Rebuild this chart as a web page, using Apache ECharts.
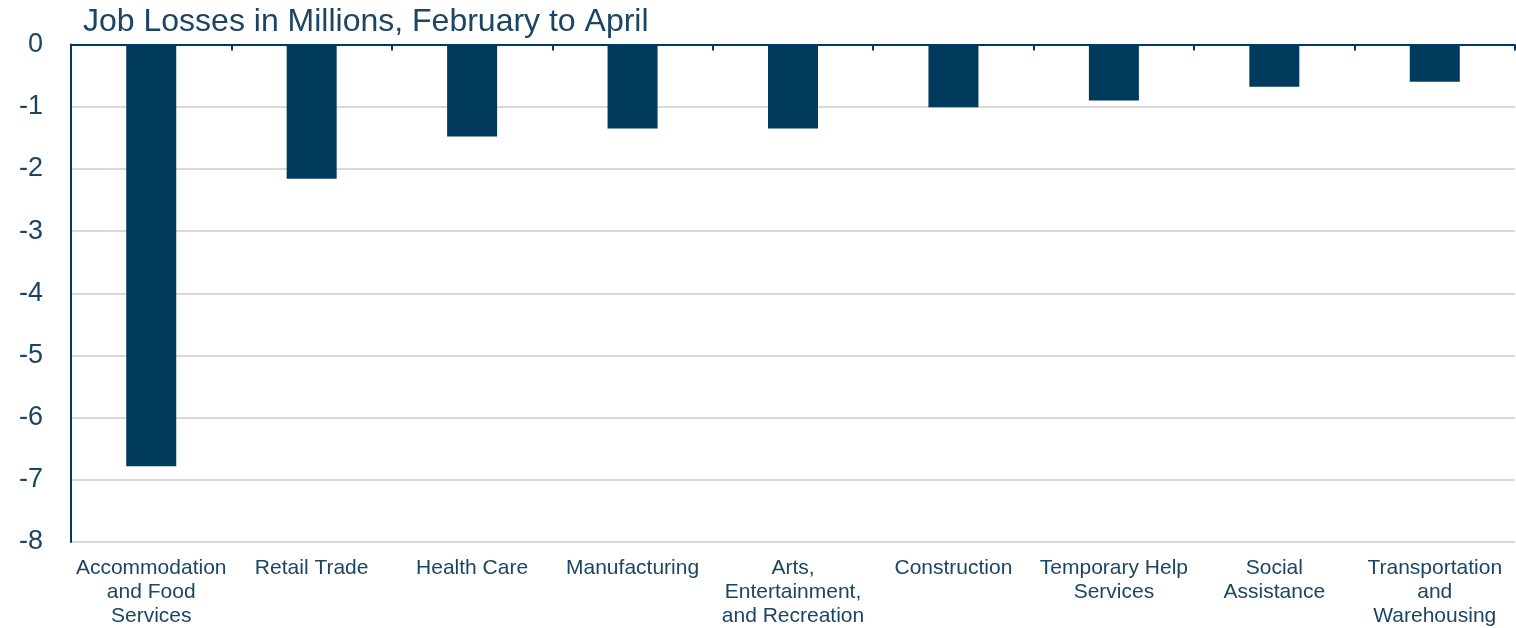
<!DOCTYPE html>
<html>
<head>
<meta charset="utf-8">
<script src="https://cdn.jsdelivr.net/npm/echarts@6/dist/echarts.min.js"></script>
<style>
html,body{margin:0;padding:0;background:#fff;}
#chart{width:1516px;height:628px;}
</style>
</head>
<body>
<div id="chart"></div>
<script>
const titleText = "Job Losses in Millions, February to April";
const categories = [
  "Accommodation\nand Food\nServices",
  "Retail Trade",
  "Health Care",
  "Manufacturing",
  "Arts,\nEntertainment,\nand Recreation",
  "Construction",
  "Temporary Help\nServices",
  "Social\nAssistance",
  "Transportation\nand\nWarehousing"
];
const jobLosses = [-6.78, -2.16, -1.48, -1.35, -1.35, -1.01, -0.90, -0.68, -0.60];
const yMin = -8, yMax = 0, yStep = 1;

const navy = '#003A5D';
const textColor = '#1B4563';
const chart = echarts.init(document.getElementById('chart'), null, {renderer: 'canvas'});
chart.setOption({
  animation: false,
  backgroundColor: '#fff',
  title: {
    text: titleText,
    left: 78, top: 1,
    textStyle: {fontFamily: 'Liberation Sans, Arial, sans-serif', fontSize: 32, fontWeight: 'normal', color: textColor}
  },
  grid: {left: 71, right: 1, top: 44.5, bottom: 84.7, containLabel: false},
  xAxis: [
    {
      type: 'category', data: categories, position: 'bottom',
      axisLine: {show: false}, axisTick: {show: false},
      axisLabel: {interval: 0, margin: 14, fontFamily: 'Liberation Sans, Arial, sans-serif', fontSize: 21, lineHeight: 24, color: textColor}
    },
    {
      type: 'category', data: categories, position: 'top',
      axisLine: {show: true, lineStyle: {color: navy, width: 2}},
      axisTick: {show: true, inside: true, length: 6, lineStyle: {color: navy, width: 2}},
      axisLabel: {show: false}
    }
  ],
  yAxis: {
    type: 'value', min: yMin, max: yMax, interval: yStep,
    axisLine: {show: true, lineStyle: {color: navy, width: 2}},
    axisTick: {show: false},
    splitLine: {show: true, lineStyle: {color: '#D9D9D9', width: 2}},
    axisLabel: {margin: 28, fontFamily: 'Liberation Sans, Arial, sans-serif', fontSize: 27, color: textColor}
  },
  series: [{
    type: 'bar', xAxisIndex: 0, data: jobLosses, barWidth: 50,
    itemStyle: {color: navy}
  }]
});
</script>
</body>
</html>
